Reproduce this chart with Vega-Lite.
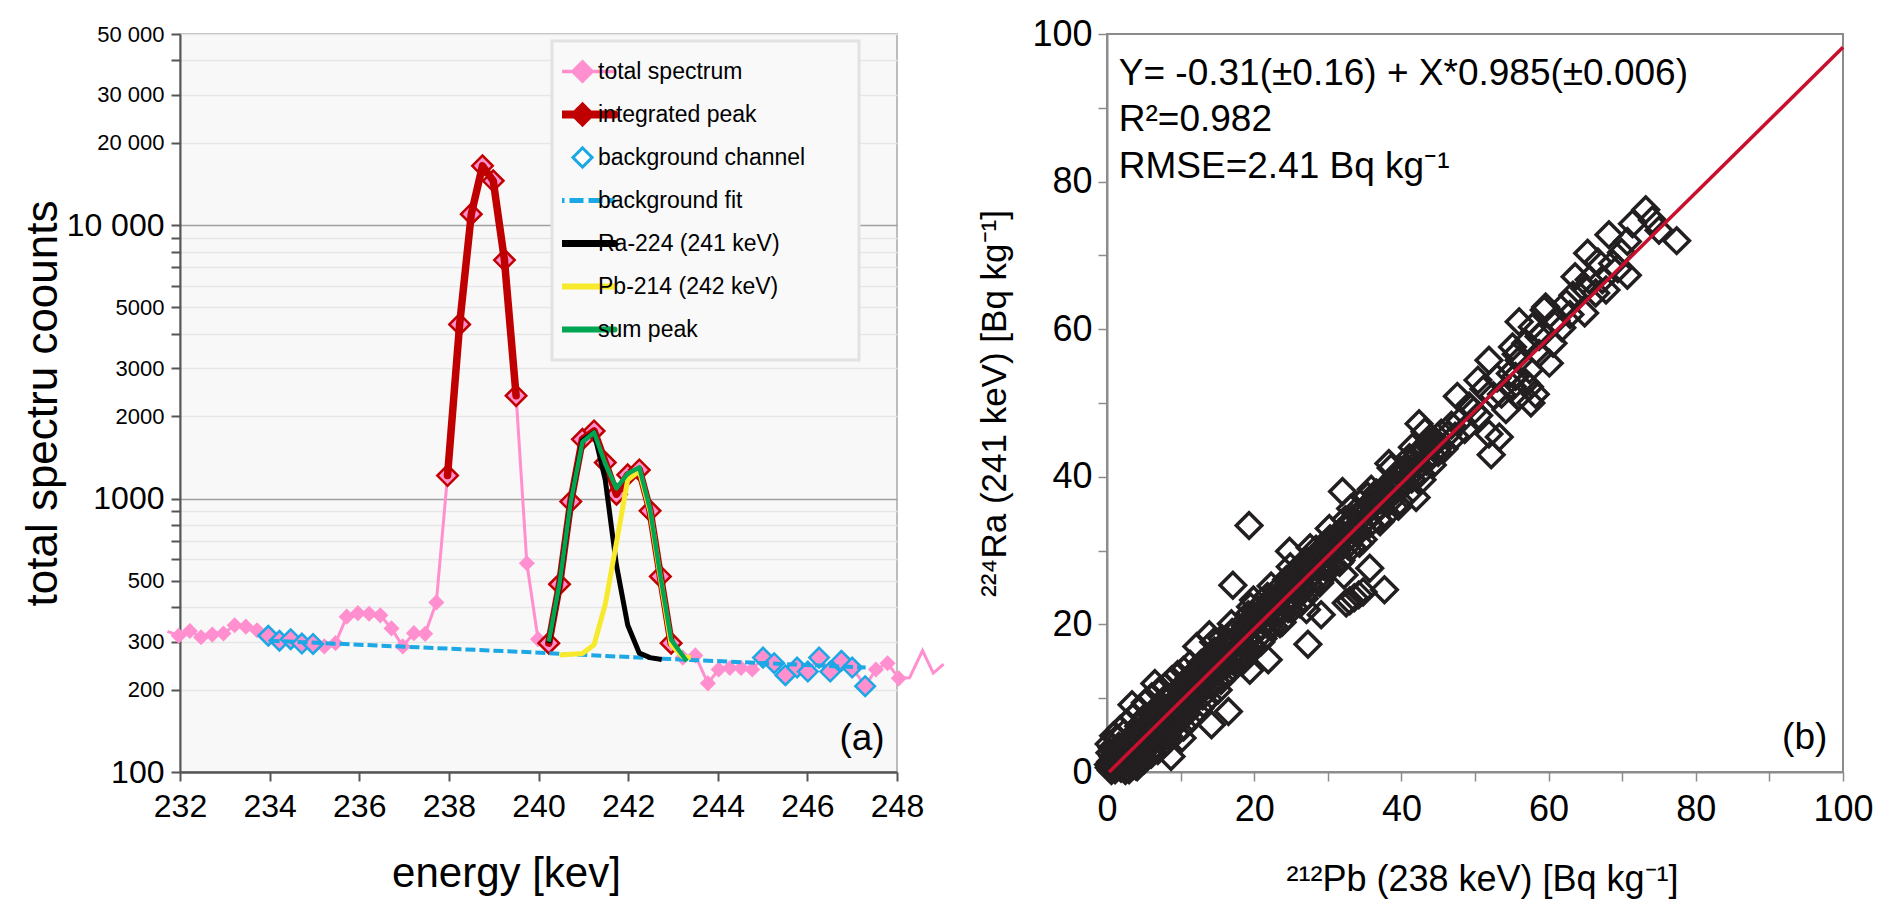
{
  "$schema": "https://vega.github.io/schema/vega-lite/v6.json",
  "background": "white",
  "padding": {"left": 20, "top": 15, "right": 5, "bottom": 5},
  "spacing": 25,
  "config": {
    "font": "Liberation Sans",
    "axis": {"labelFont": "Liberation Sans", "titleFont": "Liberation Sans", "labelColor": "#000", "titleColor": "#000", "titleFontWeight": "normal", "labelFlush": false, "labelOverlap": false}
  },
  "datasets": {
    "spectrum": [
      {"e": 231.72, "c": 327, "role": "x"},
      {"e": 231.97, "c": 315, "role": "s"},
      {"e": 232.22, "c": 328, "role": "s"},
      {"e": 232.47, "c": 311, "role": "s"},
      {"e": 232.72, "c": 318, "role": "s"},
      {"e": 232.97, "c": 321, "role": "s"},
      {"e": 233.22, "c": 344, "role": "s"},
      {"e": 233.47, "c": 340, "role": "s"},
      {"e": 233.72, "c": 330, "role": "s"},
      {"e": 233.97, "c": 315, "role": "b"},
      {"e": 234.22, "c": 302, "role": "b"},
      {"e": 234.47, "c": 306, "role": "b"},
      {"e": 234.72, "c": 295, "role": "b"},
      {"e": 234.97, "c": 294, "role": "b"},
      {"e": 235.22, "c": 288, "role": "s"},
      {"e": 235.47, "c": 296, "role": "s"},
      {"e": 235.72, "c": 370, "role": "s"},
      {"e": 235.97, "c": 381, "role": "s"},
      {"e": 236.22, "c": 379, "role": "s"},
      {"e": 236.47, "c": 374, "role": "s"},
      {"e": 236.72, "c": 335, "role": "s"},
      {"e": 236.97, "c": 288, "role": "s"},
      {"e": 237.22, "c": 322, "role": "s"},
      {"e": 237.47, "c": 320, "role": "s"},
      {"e": 237.72, "c": 417, "role": "s"},
      {"e": 237.97, "c": 1214, "role": "p1"},
      {"e": 238.24, "c": 4335, "role": "p1"},
      {"e": 238.50, "c": 10970, "role": "p1"},
      {"e": 238.75, "c": 16470, "role": "p1"},
      {"e": 238.99, "c": 14520, "role": "p1"},
      {"e": 239.24, "c": 7450, "role": "p1"},
      {"e": 239.50, "c": 2378, "role": "p1"},
      {"e": 239.74, "c": 580, "role": "s"},
      {"e": 239.99, "c": 306, "role": "s"},
      {"e": 240.23, "c": 296, "role": "p2"},
      {"e": 240.47, "c": 486, "role": "p2"},
      {"e": 240.72, "c": 975, "role": "p2"},
      {"e": 240.98, "c": 1647, "role": "p2"},
      {"e": 241.24, "c": 1767, "role": "p2"},
      {"e": 241.49, "c": 1354, "role": "p2"},
      {"e": 241.74, "c": 1037, "role": "p2"},
      {"e": 241.99, "c": 1221, "role": "p2"},
      {"e": 242.25, "c": 1273, "role": "p2"},
      {"e": 242.49, "c": 902, "role": "p2"},
      {"e": 242.72, "c": 519, "role": "p2"},
      {"e": 242.96, "c": 296, "role": "p2"},
      {"e": 243.22, "c": 262, "role": "s"},
      {"e": 243.50, "c": 267, "role": "s"},
      {"e": 243.78, "c": 211, "role": "s"},
      {"e": 244.02, "c": 237, "role": "s"},
      {"e": 244.27, "c": 240, "role": "s"},
      {"e": 244.52, "c": 240, "role": "s"},
      {"e": 244.77, "c": 237, "role": "s"},
      {"e": 245.01, "c": 262, "role": "b"},
      {"e": 245.26, "c": 250, "role": "b"},
      {"e": 245.51, "c": 226, "role": "b"},
      {"e": 245.77, "c": 241, "role": "b"},
      {"e": 246.01, "c": 233, "role": "b"},
      {"e": 246.26, "c": 262, "role": "b"},
      {"e": 246.51, "c": 233, "role": "b"},
      {"e": 246.76, "c": 255, "role": "b"},
      {"e": 247.00, "c": 241, "role": "b"},
      {"e": 247.29, "c": 206, "role": "b"},
      {"e": 247.53, "c": 237, "role": "s"},
      {"e": 247.79, "c": 250, "role": "s"},
      {"e": 248.04, "c": 220, "role": "s"},
      {"e": 248.28, "c": 221, "role": "x"},
      {"e": 248.57, "c": 278, "role": "x"},
      {"e": 248.81, "c": 230, "role": "x"},
      {"e": 249.04, "c": 248, "role": "x"}
    ],
    "fit": [
      {"e": 234.0, "c": 302},
      {"e": 239.84, "c": 274},
      {"e": 242.67, "c": 260},
      {"e": 247.3, "c": 241}
    ],
    "ra224": [
      {"e": 240.23, "c": 296}, {"e": 240.47, "c": 486}, {"e": 240.72, "c": 975},
      {"e": 240.98, "c": 1630}, {"e": 241.24, "c": 1745}, {"e": 241.49, "c": 1170},
      {"e": 241.74, "c": 570}, {"e": 241.99, "c": 345}, {"e": 242.25, "c": 272},
      {"e": 242.49, "c": 262}, {"e": 242.75, "c": 258}
    ],
    "pb214": [
      {"e": 240.47, "c": 268}, {"e": 240.98, "c": 271}, {"e": 241.24, "c": 292},
      {"e": 241.49, "c": 410}, {"e": 241.74, "c": 690}, {"e": 241.99, "c": 1170},
      {"e": 242.25, "c": 1262}, {"e": 242.49, "c": 895}, {"e": 242.72, "c": 512},
      {"e": 242.96, "c": 292}, {"e": 243.22, "c": 264}, {"e": 243.4, "c": 262}
    ],
    "sumpeak": [
      {"e": 240.23, "c": 300}, {"e": 240.47, "c": 490}, {"e": 240.72, "c": 975},
      {"e": 240.98, "c": 1610}, {"e": 241.24, "c": 1745}, {"e": 241.49, "c": 1340},
      {"e": 241.74, "c": 1090}, {"e": 241.99, "c": 1235}, {"e": 242.25, "c": 1300},
      {"e": 242.49, "c": 915}, {"e": 242.72, "c": 522}, {"e": 242.96, "c": 305},
      {"e": 243.31, "c": 254}
    ],
    "notesA": [{"note": "(a)"}],
    "notesB": [{"note": "(b)"}],
    "notesFit": [{"note": ["Y= -0.31(±0.16) + X*0.985(±0.006)", "R²=0.982", "RMSE=2.41 Bq kg⁻¹"]}],
    "fitline": [{"pb": 0.3, "ra": 0.0}, {"pb": 100, "ra": 98.2}],
    "scatter": [
      {"pb":0.3,"ra":0.6},{"pb":0.5,"ra":1.4},{"pb":0.6,"ra":0.2},{"pb":0.4,"ra":2.6},{"pb":0.7,"ra":3.3},{"pb":0.8,"ra":2.1},{"pb":0.9,"ra":0.9},{"pb":1.1,"ra":0.3},{"pb":1.2,"ra":1.8},{"pb":1.3,"ra":3.0},{"pb":1.4,"ra":4.6},{"pb":1.5,"ra":0.8},{"pb":1.6,"ra":2.4},{"pb":1.7,"ra":1.2},{"pb":1.9,"ra":0.5},{"pb":2.0,"ra":3.2},{"pb":2.1,"ra":1.9},{"pb":2.2,"ra":0.9},{"pb":2.3,"ra":5.2},{"pb":2.4,"ra":2.7},{"pb":2.5,"ra":1.5},{"pb":2.6,"ra":3.9},{"pb":2.7,"ra":0.6},{"pb":2.9,"ra":2.2},{"pb":3.0,"ra":0.3},{"pb":3.0,"ra":1.1},{"pb":3.1,"ra":4.1},{"pb":3.2,"ra":2.9},
      {"pb":0.3,"ra":3.8},{"pb":0.9,"ra":4.9},{"pb":1.8,"ra":5.8},{"pb":2.7,"ra":6.6},{"pb":3.5,"ra":7.4},{"pb":4.4,"ra":8.3},{"pb":5.2,"ra":9.4},{"pb":6.1,"ra":10.2},{"pb":7.0,"ra":10.9},{"pb":7.9,"ra":11.6},{"pb":8.8,"ra":12.5},{"pb":9.6,"ra":13.2},{"pb":10.4,"ra":13.8},{"pb":11.3,"ra":14.6},
      {"pb":2.5,"ra":0.2},{"pb":3.9,"ra":0.8},{"pb":5.0,"ra":1.6},{"pb":6.0,"ra":2.4},{"pb":7.2,"ra":3.3},{"pb":8.2,"ra":4.2},{"pb":9.3,"ra":5.2},{"pb":10.4,"ra":6.1},{"pb":11.5,"ra":7.4},{"pb":12.6,"ra":8.6},{"pb":13.8,"ra":9.9},
      {"pb":14.5,"ra":17.6},{"pb":16.9,"ra":20.1},{"pb":19.5,"ra":22.4},{"pb":22.3,"ra":25.2},{"pb":24.9,"ra":27.8},{"pb":27.6,"ra":30.4},{"pb":30.2,"ra":33.0},{"pb":33.1,"ra":35.7},{"pb":35.9,"ra":38.3},{"pb":38.6,"ra":41.2},{"pb":41.5,"ra":44.0},
      {"pb":15.5,"ra":12.4},{"pb":18.3,"ra":14.9},{"pb":20.9,"ra":17.6},{"pb":23.5,"ra":20.1},{"pb":26.2,"ra":22.8},{"pb":28.9,"ra":25.6},{"pb":31.6,"ra":28.4},{"pb":34.3,"ra":31.0},{"pb":37.1,"ra":33.9},{"pb":39.8,"ra":36.7},{"pb":42.8,"ra":39.6},
      {"pb":0.2,"ra":1.0},{"pb":0.5,"ra":0.5},{"pb":0.8,"ra":1.2},{"pb":1.0,"ra":2.7},{"pb":1.2,"ra":0.7},{"pb":1.4,"ra":1.6},{"pb":1.6,"ra":3.5},{"pb":1.8,"ra":2.0},{"pb":2.0,"ra":1.2},{"pb":2.2,"ra":2.5},{"pb":2.4,"ra":1.0},{"pb":2.6,"ra":2.3},{"pb":2.8,"ra":3.1},{"pb":3.0,"ra":2.0},{"pb":3.2,"ra":3.8},{"pb":3.4,"ra":2.4},{"pb":3.6,"ra":4.2},{"pb":3.8,"ra":3.3},{"pb":4.0,"ra":2.2},{"pb":4.2,"ra":5.3},{"pb":4.4,"ra":3.9},{"pb":4.6,"ra":4.7},{"pb":4.8,"ra":3.0},{"pb":5.0,"ra":5.9},{"pb":5.2,"ra":3.6},{"pb":5.4,"ra":5.0},{"pb":5.6,"ra":6.3},{"pb":5.8,"ra":4.2},{"pb":6.0,"ra":5.6},{"pb":6.2,"ra":6.9},{"pb":6.4,"ra":4.8},{"pb":6.6,"ra":6.1},{"pb":6.8,"ra":5.3},{"pb":7.0,"ra":7.3},{"pb":7.2,"ra":5.8},{"pb":7.4,"ra":7.9},{"pb":7.6,"ra":6.6},{"pb":7.8,"ra":5.2},{"pb":8.0,"ra":7.0},{"pb":8.2,"ra":8.6},{"pb":8.4,"ra":6.3},{"pb":8.6,"ra":8.0},{"pb":8.8,"ra":7.1},{"pb":9.0,"ra":9.4},{"pb":9.2,"ra":7.8},{"pb":9.4,"ra":8.9},{"pb":9.6,"ra":10.0},{"pb":9.8,"ra":8.1},{"pb":10.0,"ra":9.8},{"pb":10.2,"ra":9.0},{"pb":10.4,"ra":11.1},{"pb":10.6,"ra":10.4},{"pb":10.8,"ra":9.2},{"pb":11.0,"ra":11.6},{"pb":11.2,"ra":10.3},{"pb":11.4,"ra":12.0},{"pb":11.6,"ra":11.0},{"pb":11.8,"ra":10.5},{"pb":12.0,"ra":12.6},
      {"pb":3.3,"ra":1.6},{"pb":3.4,"ra":9.1},{"pb":3.5,"ra":3.4},{"pb":3.6,"ra":0.9},{"pb":3.7,"ra":4.6},{"pb":3.8,"ra":2.3},{"pb":3.9,"ra":5.4},{"pb":4.0,"ra":3.1},{"pb":4.1,"ra":0.7},{"pb":4.1,"ra":1.7},{"pb":4.2,"ra":4.0},{"pb":4.3,"ra":6.2},{"pb":4.4,"ra":2.6},{"pb":4.5,"ra":5.1},{"pb":4.6,"ra":3.6},{"pb":4.7,"ra":1.9},{"pb":4.8,"ra":4.4},{"pb":4.9,"ra":6.8},{"pb":5.0,"ra":2.8},{"pb":5.1,"ra":5.6},{"pb":5.2,"ra":4.1},{"pb":5.3,"ra":7.4},{"pb":5.4,"ra":3.2},{"pb":5.5,"ra":6.0},{"pb":5.6,"ra":4.8},{"pb":5.7,"ra":2.5},{"pb":5.8,"ra":5.3},{"pb":5.9,"ra":7.1},{"pb":6.0,"ra":3.9},{"pb":6.1,"ra":6.4},{"pb":6.2,"ra":5.0},{"pb":6.3,"ra":8.2},{"pb":6.4,"ra":3.4},{"pb":6.5,"ra":12.0},{"pb":6.5,"ra":5.7},{"pb":6.6,"ra":7.6},{"pb":6.7,"ra":4.6},{"pb":6.8,"ra":6.9},{"pb":6.9,"ra":2.9},{"pb":7.0,"ra":5.9},{"pb":7.1,"ra":8.4},{"pb":7.2,"ra":4.4},{"pb":7.3,"ra":7.1},{"pb":7.4,"ra":6.0},{"pb":7.5,"ra":9.0},{"pb":7.6,"ra":5.1},{"pb":7.7,"ra":3.8},{"pb":7.8,"ra":7.8},{"pb":7.9,"ra":6.6},{"pb":8.0,"ra":9.6},{"pb":8.1,"ra":5.4},{"pb":8.2,"ra":7.2},{"pb":8.3,"ra":4.9},{"pb":8.4,"ra":8.8},{"pb":8.5,"ra":6.8},{"pb":8.6,"ra":10.1},{"pb":8.7,"ra":2.1},{"pb":8.7,"ra":7.4},{"pb":8.8,"ra":5.9},{"pb":8.9,"ra":9.2},{"pb":9.0,"ra":8.0},{"pb":9.1,"ra":6.3},{"pb":9.2,"ra":10.6},{"pb":9.3,"ra":7.5},{"pb":9.5,"ra":9.9},{"pb":9.6,"ra":8.4},{"pb":9.7,"ra":6.9},{"pb":9.8,"ra":11.2},{"pb":9.9,"ra":9.0},{"pb":10.0,"ra":7.6},{"pb":10.2,"ra":4.6},{"pb":10.2,"ra":10.4},{"pb":10.3,"ra":8.6},{"pb":10.5,"ra":12.0},{"pb":10.6,"ra":9.3},{"pb":10.8,"ra":7.9},{"pb":10.9,"ra":11.4},{"pb":11.1,"ra":10.0},{"pb":11.2,"ra":12.8},{"pb":11.4,"ra":9.1},{"pb":11.5,"ra":11.7},{"pb":11.7,"ra":10.3},{"pb":11.8,"ra":13.4},{"pb":12.0,"ra":11.0},
      {"pb":12.3,"ra":12.0},{"pb":12.7,"ra":13.4},{"pb":13.0,"ra":12.1},{"pb":13.4,"ra":14.2},{"pb":13.8,"ra":13.0},{"pb":14.1,"ra":14.4},{"pb":14.5,"ra":13.2},{"pb":14.9,"ra":15.6},{"pb":15.3,"ra":14.6},{"pb":15.7,"ra":16.3},{"pb":16.1,"ra":15.0},{"pb":16.5,"ra":17.3},{"pb":16.9,"ra":15.9},{"pb":17.3,"ra":17.8},{"pb":17.7,"ra":16.5},{"pb":18.1,"ra":18.5},{"pb":18.5,"ra":17.1},{"pb":18.9,"ra":19.3},{"pb":19.3,"ra":18.0},{"pb":19.7,"ra":20.2},{"pb":20.1,"ra":18.9},{"pb":20.5,"ra":21.0},{"pb":20.9,"ra":19.6},{"pb":21.3,"ra":21.9},{"pb":21.7,"ra":20.6},{"pb":22.1,"ra":22.5},{"pb":22.5,"ra":21.3},{"pb":22.9,"ra":23.4},{"pb":23.3,"ra":22.0},{"pb":23.7,"ra":24.1},{"pb":24.1,"ra":22.9},{"pb":24.5,"ra":25.0},{"pb":24.9,"ra":23.6},{"pb":25.3,"ra":25.9},{"pb":25.7,"ra":24.5},{"pb":26.1,"ra":26.6},{"pb":26.5,"ra":25.3},{"pb":26.9,"ra":27.5},{"pb":27.3,"ra":26.1},{"pb":27.7,"ra":28.3},{"pb":28.1,"ra":26.9},{"pb":28.5,"ra":29.1},{"pb":28.9,"ra":27.8},{"pb":29.3,"ra":29.9},{"pb":29.7,"ra":28.6},{"pb":30.1,"ra":30.8},{"pb":30.5,"ra":29.3},{"pb":30.9,"ra":31.6},{"pb":31.3,"ra":30.2},{"pb":31.7,"ra":32.3},{"pb":32.1,"ra":30.9},{"pb":32.5,"ra":33.2},{"pb":32.9,"ra":31.8},{"pb":33.3,"ra":34.0},{"pb":33.7,"ra":32.6},{"pb":34.1,"ra":34.8},{"pb":34.5,"ra":33.4},{"pb":34.9,"ra":35.6},{"pb":35.3,"ra":34.3},{"pb":35.7,"ra":36.3},{"pb":36.1,"ra":35.0},{"pb":36.5,"ra":37.2},{"pb":36.9,"ra":35.9},{"pb":37.3,"ra":37.9},{"pb":37.7,"ra":36.7},{"pb":38.1,"ra":38.8},{"pb":38.5,"ra":37.5},{"pb":38.9,"ra":39.5},{"pb":39.3,"ra":38.2},{"pb":39.7,"ra":40.4},{"pb":40.1,"ra":39.0},{"pb":40.5,"ra":41.2},{"pb":40.9,"ra":39.9},{"pb":41.3,"ra":41.9},{"pb":41.7,"ra":40.8},{"pb":42.1,"ra":42.7},{"pb":42.5,"ra":41.5},{"pb":42.9,"ra":43.5},{"pb":43.3,"ra":42.3},{"pb":43.7,"ra":44.2},{"pb":44.1,"ra":43.1},{"pb":44.5,"ra":45.0},
      {"pb":12.2,"ra":13.3},{"pb":12.2,"ra":17.0},{"pb":12.4,"ra":10.5},{"pb":12.6,"ra":12.6},{"pb":12.8,"ra":14.7},{"pb":13.0,"ra":10.3},{"pb":13.1,"ra":9.3},{"pb":13.3,"ra":13.7},{"pb":13.5,"ra":12.2},{"pb":13.7,"ra":15.2},{"pb":13.9,"ra":18.6},{"pb":14.0,"ra":12.0},{"pb":14.2,"ra":6.4},{"pb":14.2,"ra":14.9},{"pb":14.4,"ra":13.5},{"pb":14.6,"ra":16.4},{"pb":14.8,"ra":12.3},{"pb":15.0,"ra":15.1},{"pb":15.1,"ra":11.1},{"pb":15.2,"ra":16.4},{"pb":15.4,"ra":13.9},{"pb":15.6,"ra":18.1},{"pb":15.8,"ra":12.9},{"pb":16.0,"ra":15.8},{"pb":16.2,"ra":17.6},{"pb":16.4,"ra":14.7},{"pb":16.5,"ra":8.2},{"pb":16.6,"ra":16.9},{"pb":16.8,"ra":13.7},{"pb":17.0,"ra":18.9},{"pb":17.1,"ra":25.3},{"pb":17.2,"ra":16.0},{"pb":17.4,"ra":18.1},{"pb":17.6,"ra":15.1},{"pb":17.8,"ra":17.6},{"pb":18.0,"ra":19.6},{"pb":18.2,"ra":16.6},{"pb":18.4,"ra":18.7},{"pb":18.6,"ra":15.7},{"pb":18.8,"ra":19.8},{"pb":19.0,"ra":18.2},{"pb":19.2,"ra":21.3},{"pb":19.3,"ra":33.4},{"pb":19.4,"ra":17.3},{"pb":19.4,"ra":13.8},{"pb":19.6,"ra":19.7},{"pb":19.8,"ra":17.1},{"pb":19.9,"ra":23.3},{"pb":20.0,"ra":21.2},{"pb":20.2,"ra":19.1},{"pb":20.4,"ra":22.1},{"pb":20.6,"ra":18.3},{"pb":20.8,"ra":20.7},{"pb":21.0,"ra":21.8},{"pb":21.2,"ra":18.1},{"pb":21.4,"ra":21.7},{"pb":21.6,"ra":20.1},{"pb":21.8,"ra":23.8},{"pb":21.9,"ra":15.2},{"pb":22.0,"ra":19.8},{"pb":22.2,"ra":21.8},{"pb":22.4,"ra":23.5},{"pb":22.6,"ra":19.8},{"pb":22.8,"ra":23.2},{"pb":23.0,"ra":21.7},{"pb":23.2,"ra":24.7},{"pb":23.4,"ra":21.4},{"pb":23.6,"ra":23.5},{"pb":23.8,"ra":20.3},{"pb":24.0,"ra":24.8},{"pb":24.2,"ra":23.2},{"pb":24.4,"ra":26.1},{"pb":24.6,"ra":22.1},{"pb":24.8,"ra":29.9},{"pb":24.8,"ra":24.9},{"pb":25.0,"ra":23.2},{"pb":25.2,"ra":26.4},{"pb":25.4,"ra":22.3},{"pb":25.6,"ra":25.2},{"pb":25.8,"ra":27.3},{"pb":26.0,"ra":23.9},{"pb":26.2,"ra":26.4},{"pb":26.4,"ra":25.2},{"pb":26.6,"ra":27.5},{"pb":26.8,"ra":23.5},{"pb":27.0,"ra":26.7},{"pb":27.1,"ra":22.0},{"pb":27.3,"ra":17.3},{"pb":27.2,"ra":28.5},{"pb":27.4,"ra":25.5},{"pb":27.6,"ra":27.6},{"pb":27.8,"ra":25.0},{"pb":28.0,"ra":28.6},{"pb":28.2,"ra":27.1},{"pb":28.4,"ra":30.2},{"pb":28.6,"ra":26.2},{"pb":28.8,"ra":28.7},{"pb":29.0,"ra":26.0},{"pb":29.1,"ra":21.3},{"pb":29.2,"ra":30.3},{"pb":29.4,"ra":27.9},{"pb":29.6,"ra":30.0},{"pb":29.8,"ra":27.6},{"pb":30.0,"ra":29.5},
      {"pb":30.3,"ra":31.6},{"pb":30.6,"ra":27.9},{"pb":30.9,"ra":30.9},{"pb":31.2,"ra":29.8},{"pb":31.5,"ra":32.4},{"pb":31.8,"ra":28.7},{"pb":32.0,"ra":38.0},{"pb":32.1,"ra":31.8},{"pb":32.2,"ra":26.7},{"pb":32.4,"ra":34.2},{"pb":32.5,"ra":22.9},{"pb":32.7,"ra":30.7},{"pb":33.0,"ra":33.4},{"pb":33.0,"ra":23.2},{"pb":33.3,"ra":30.5},{"pb":33.4,"ra":34.3},{"pb":33.6,"ra":33.1},{"pb":33.6,"ra":23.6},{"pb":33.9,"ra":35.4},{"pb":34.2,"ra":32.5},{"pb":34.2,"ra":24.0},{"pb":34.5,"ra":35.1},{"pb":34.8,"ra":31.5},{"pb":34.8,"ra":24.4},{"pb":35.1,"ra":35.0},{"pb":35.4,"ra":37.4},{"pb":35.7,"ra":33.6},{"pb":35.7,"ra":27.6},{"pb":36.0,"ra":36.2},{"pb":36.3,"ra":35.1},{"pb":36.6,"ra":37.8},{"pb":36.9,"ra":34.2},{"pb":37.2,"ra":36.9},{"pb":37.5,"ra":38.3},{"pb":37.7,"ra":24.7},{"pb":37.8,"ra":34.7},{"pb":38.1,"ra":37.4},{"pb":38.3,"ra":41.8},{"pb":38.4,"ra":36.6},{"pb":38.7,"ra":39.3},{"pb":39.2,"ra":40.0},{"pb":39.3,"ra":38.9},{"pb":39.6,"ra":36.0},{"pb":39.9,"ra":40.9},{"pb":40.2,"ra":38.8},{"pb":40.5,"ra":40.7},{"pb":40.8,"ra":37.6},{"pb":41.1,"ra":42.6},{"pb":41.4,"ra":39.7},{"pb":41.8,"ra":41.6},{"pb":42.0,"ra":37.2},{"pb":42.2,"ra":43.2},{"pb":42.4,"ra":47.2},{"pb":42.6,"ra":40.5},{"pb":43.0,"ra":43.4},{"pb":43.2,"ra":46.1},{"pb":43.4,"ra":42.1},{"pb":43.8,"ra":44.8},{"pb":44.2,"ra":41.6},{"pb":44.6,"ra":44.5},{"pb":44.9,"ra":43.8},{"pb":45.0,"ra":43.3},{"pb":45.4,"ra":45.9},{"pb":45.8,"ra":43.8},
      {"pb":46.3,"ra":45.7},{"pb":46.8,"ra":47.0},{"pb":47.3,"ra":45.5},{"pb":47.6,"ra":50.9},{"pb":48.0,"ra":47.6},{"pb":48.6,"ra":46.4},{"pb":49.2,"ra":49.6},{"pb":49.8,"ra":48.9},{"pb":50.4,"ra":53.1},{"pb":50.5,"ra":48.3},{"pb":51.2,"ra":51.9},{"pb":51.9,"ra":55.8},{"pb":51.9,"ra":45.8},{"pb":52.2,"ra":43.0},{"pb":52.5,"ra":51.0},{"pb":53.0,"ra":53.4},{"pb":53.3,"ra":45.4},{"pb":53.6,"ra":51.2},{"pb":54.2,"ra":49.1},{"pb":54.8,"ra":54.0},{"pb":55.1,"ra":52.2},{"pb":55.1,"ra":57.6},{"pb":55.5,"ra":53.6},{"pb":55.6,"ra":56.6},{"pb":56.0,"ra":50.9},{"pb":56.0,"ra":55.8},{"pb":56.0,"ra":61.0},{"pb":56.9,"ra":58.1},{"pb":56.9,"ra":52.7},{"pb":57.4,"ra":52.2},{"pb":57.4,"ra":54.5},{"pb":57.6,"ra":50.0},{"pb":57.8,"ra":60.3},{"pb":58.2,"ra":51.2},{"pb":58.7,"ra":56.7},{"pb":58.7,"ra":59.0},{"pb":59.2,"ra":59.4},{"pb":59.4,"ra":62.6},{"pb":59.6,"ra":63.0},{"pb":60.1,"ra":55.4},{"pb":60.6,"ra":58.1},{"pb":61.0,"ra":61.2},{"pb":61.8,"ra":60.2},{"pb":62.4,"ra":63.5},{"pb":62.9,"ra":62.0},{"pb":63.3,"ra":64.6},{"pb":63.6,"ra":67.1},{"pb":64.9,"ra":62.2},{"pb":64.9,"ra":65.5},{"pb":65.3,"ra":70.3},{"pb":65.5,"ra":66.7},{"pb":66.4,"ra":64.9},{"pb":66.7,"ra":69.1},{"pb":67.3,"ra":66.7},{"pb":67.8,"ra":65.3},{"pb":68.2,"ra":72.8},{"pb":68.7,"ra":68.9},{"pb":69.4,"ra":68.2},{"pb":69.9,"ra":70.4},{"pb":70.7,"ra":71.9},{"pb":70.7,"ra":67.3},{"pb":71.4,"ra":74.3},{"pb":73.2,"ra":76.2},{"pb":74.1,"ra":74.8},{"pb":75.0,"ra":73.4},{"pb":77.4,"ra":72.0}
    ]
  },
  "hconcat": [
    {
      "width": 717,
      "height": 738,
      "view": {"fill": "#F8F8F8", "stroke": "#A8A8A8", "strokeWidth": 1.5},
      "layer": [
        {
          "data": {"name": "spectrum"},
          "mark": {"type": "line", "strokeWidth": 3, "clip": false},
          "encoding": {
            "x": {
              "field": "e", "type": "quantitative",
              "scale": {"domain": [232, 248], "nice": false, "zero": false},
              "axis": {
                "values": [232, 234, 236, 238, 240, 242, 244, 246, 248],
                "grid": false, "labelFontSize": 32, "labelPadding": 10,
                "tickSize": 9, "tickWidth": 2, "tickColor": "#555", "domainColor": "#555", "domainWidth": 2.5,
                "title": "energy [kev]", "titleFontSize": 42, "titleX": 326, "titleY": 114, "titleBaseline": "alphabetic"
              }
            },
            "y": {
              "field": "c", "type": "quantitative",
              "scale": {"type": "log", "domain": [100, 50000], "nice": false},
              "axis": {
                "values": [100, 200, 300, 400, 500, 600, 700, 800, 900, 1000, 2000, 3000, 4000, 5000, 6000, 7000, 8000, 9000, 10000, 20000, 30000, 40000, 50000],
                "labelExpr": "indexof([100,200,300,500,1000,2000,3000,5000,10000,20000,30000,50000], datum.value) >= 0 ? (datum.value >= 10000 ? replace(format(datum.value, ','), ',', ' ') : format(datum.value, 'd')) : ''",
                "labelFontSize": {"condition": {"test": "datum.value === 100 || datum.value === 1000 || datum.value === 10000", "value": 32}, "value": 22},
                "gridColor": {"condition": {"test": "datum.value === 1000 || datum.value === 10000", "value": "#A0A0A0"}, "value": "#E6E6E6"},
                "gridWidth": 1.5, "grid": true, "labelPadding": 7,
                "tickSize": 9, "tickWidth": 2, "tickColor": "#555", "domainColor": "#555", "domainWidth": 2,
                "title": "total spectru coounts", "titleFontSize": 44, "titleAngle": 270,
                "titleX": -137, "titleY": 369, "titleBaseline": "middle", "titleAlign": "center"
              }
            },
            "color": {
              "datum": "total spectrum", "type": "nominal",
              "scale": {
                "domain": ["total spectrum", "integrated peak", "background channel", "background fit", "Ra-224 (241 keV)", "Pb-214 (242 keV)", "sum peak"],
                "range": ["#FF8FCF", "#C00000", "#1BA8E4", "#1BA8E4", "#000000", "#F7E92C", "#00A651"]
              },
              "legend": {
                "title": " ", "titleOrient": "right", "titlePadding": 44,
                "orient": "none", "legendX": 372, "legendY": 7,
                "symbolSize": 4096, "clipHeight": 41, "rowPadding": 2, "padding": 10,
                "symbolOffset": 9, "labelOffset": 4, "labelFont": "Liberation Sans", "labelFontSize": 23, "labelColor": "#000", "labelLimit": 400,
                "fillColor": "#F9F9F9", "strokeColor": "#E2E2E2",
                "encode": {
                  "legend": {"update": {"strokeWidth": {"value": 3}}},
                  "symbols": {"update": {
                    "shape": {"signal": "datum.value === 'total spectrum' ? 'M-1,0L1,0M0,-0.3L0.3,0L0,0.3L-0.3,0Z' : datum.value === 'integrated peak' ? 'M-1,0L1,0M0,-0.22L0.22,0L0,0.22L-0.22,0Z' : datum.value === 'background channel' ? 'M0,-0.3L0.3,0L0,0.3L-0.3,0Z' : 'M-1,0L1,0'"},
                    "fill": {"signal": "datum.value === 'total spectrum' ? '#FF8FCF' : datum.value === 'integrated peak' ? '#C00000' : datum.value === 'background channel' ? '#FFFFFF' : 'transparent'"},
                    "strokeWidth": {"signal": "datum.value === 'integrated peak' ? 8 : datum.value === 'Ra-224 (241 keV)' ? 7 : datum.value === 'total spectrum' ? 3.5 : datum.value === 'background channel' ? 3 : datum.value === 'background fit' ? 5 : 6"},
                    "strokeDash": {"signal": "datum.value === 'background fit' ? [14, 5] : [1, 0]"},
                    "strokeCap": {"signal": "datum.value === 'background fit' ? 'butt' : 'round'"},
                    "size": {"value": 4096},
                    "opacity": {"value": 1}
                  }}
                }
              }
            }
          }
        },
        {
          "data": {"name": "spectrum"},
          "transform": [{"filter": "datum.role !== 'x'"}],
          "mark": {"type": "point", "shape": "diamond", "filled": true, "color": "#FF8FCF", "size": 260, "opacity": 1},
          "encoding": {"x": {"field": "e", "type": "quantitative"}, "y": {"field": "c", "type": "quantitative"}}
        },
        {
          "data": {"name": "spectrum"},
          "transform": [{"filter": "datum.role === 'b'"}],
          "mark": {"type": "point", "shape": "diamond", "filled": true, "fill": "#FF8FCF", "stroke": "#1BA8E4", "strokeWidth": 2.5, "size": 380, "opacity": 1},
          "encoding": {"x": {"field": "e", "type": "quantitative"}, "y": {"field": "c", "type": "quantitative"}}
        },
        {
          "data": {"name": "spectrum"},
          "transform": [{"filter": "datum.role === 'p1' || datum.role === 'p2'"}],
          "mark": {"type": "point", "shape": "diamond", "filled": true, "fill": "#FF8FCF", "stroke": "#C00000", "strokeWidth": 2.5, "size": 420, "opacity": 1},
          "encoding": {"x": {"field": "e", "type": "quantitative"}, "y": {"field": "c", "type": "quantitative"}}
        },
        {
          "data": {"name": "fit"},
          "mark": {"type": "line", "color": "#1BA8E4", "strokeWidth": 4, "strokeDash": [10, 4]},
          "encoding": {"x": {"field": "e", "type": "quantitative"}, "y": {"field": "c", "type": "quantitative"}}
        },
        {
          "data": {"name": "spectrum"},
          "transform": [{"filter": "datum.role === 'p1' || datum.role === 'p2'"}],
          "mark": {"type": "line", "color": "#C00000", "strokeWidth": 7.5, "strokeJoin": "round", "strokeCap": "round"},
          "encoding": {"x": {"field": "e", "type": "quantitative"}, "y": {"field": "c", "type": "quantitative"}, "detail": {"field": "role", "type": "nominal"}}
        },
        {
          "data": {"name": "ra224"},
          "mark": {"type": "line", "color": "#000000", "strokeWidth": 5, "strokeJoin": "round"},
          "encoding": {"x": {"field": "e", "type": "quantitative"}, "y": {"field": "c", "type": "quantitative"}}
        },
        {
          "data": {"name": "pb214"},
          "mark": {"type": "line", "color": "#F7E92C", "strokeWidth": 5, "strokeJoin": "round"},
          "encoding": {"x": {"field": "e", "type": "quantitative"}, "y": {"field": "c", "type": "quantitative"}}
        },
        {
          "data": {"name": "sumpeak"},
          "mark": {"type": "line", "color": "#00A651", "strokeWidth": 4.5, "strokeJoin": "round"},
          "encoding": {"x": {"field": "e", "type": "quantitative"}, "y": {"field": "c", "type": "quantitative"}}
        },
        {
          "data": {"name": "notesA"},
          "mark": {"type": "text", "fontSize": 37, "align": "center", "baseline": "middle", "color": "#000"},
          "encoding": {
            "x": {"datum": 247.22, "type": "quantitative"},
            "y": {"datum": 131.6, "type": "quantitative"},
            "text": {"field": "note", "type": "nominal"}
          }
        }
      ]
    },
    {
      "width": 736,
      "height": 738,
      "view": {"fill": "white", "stroke": "#8C8C8C", "strokeWidth": 2},
      "layer": [
        {
          "data": {"name": "scatter"},
          "mark": {"type": "point", "shape": "diamond", "filled": false, "color": "#231F20", "strokeWidth": 3.5, "size": 650, "opacity": 1},
          "encoding": {
            "x": {
              "field": "pb", "type": "quantitative",
              "scale": {"domain": [0, 100], "nice": false},
              "axis": {
                "values": [0, 10, 20, 30, 40, 50, 60, 70, 80, 90, 100],
                "labelExpr": "datum.value % 20 === 0 ? datum.label : ''",
                "grid": false, "labelFontSize": 36, "labelPadding": 11,
                "tickSize": 9, "tickWidth": 1.5, "tickColor": "#8C8C8C", "domainColor": "#8C8C8C", "domainWidth": 2,
                "title": "²¹²Pb (238 keV) [Bq kg⁻¹]", "titleFontSize": 36, "titleX": 375, "titleY": 118, "titleBaseline": "alphabetic"
              }
            },
            "y": {
              "field": "ra", "type": "quantitative",
              "scale": {"domain": [0, 100], "nice": false},
              "axis": {
                "values": [0, 5, 10, 15, 20, 25, 30, 35, 40, 45, 50, 55, 60, 65, 70, 75, 80, 85, 90, 95, 100],
                "labelExpr": "datum.value % 20 === 0 ? datum.label : ''",
                "grid": false, "labelFontSize": 36, "labelPadding": 6,
                "tickSize": 9, "tickWidth": 1.5, "tickColor": "#8C8C8C", "domainColor": "#8C8C8C", "domainWidth": 2,
                "title": "²²⁴Ra (241 keV) [Bq kg⁻¹]", "titleFontSize": 35, "titleAngle": 270,
                "titleX": -113, "titleY": 369, "titleBaseline": "middle", "titleAlign": "center"
              }
            }
          }
        },
        {
          "data": {"name": "fitline"},
          "mark": {"type": "line", "color": "#C8102E", "strokeWidth": 3.5},
          "encoding": {"x": {"field": "pb", "type": "quantitative"}, "y": {"field": "ra", "type": "quantitative"}}
        },
        {
          "data": {"name": "notesFit"},
          "mark": {"type": "text", "fontSize": 37, "lineHeight": 46.5, "align": "left", "baseline": "alphabetic", "color": "#000"},
          "encoding": {
            "x": {"datum": 1.6, "type": "quantitative"},
            "y": {"datum": 93.1, "type": "quantitative"},
            "text": {"field": "note", "type": "nominal"}
          }
        },
        {
          "data": {"name": "notesB"},
          "mark": {"type": "text", "fontSize": 37, "align": "center", "baseline": "middle", "color": "#000"},
          "encoding": {
            "x": {"datum": 94.8, "type": "quantitative"},
            "y": {"datum": 4.6, "type": "quantitative"},
            "text": {"field": "note", "type": "nominal"}
          }
        }
      ]
    }
  ]
}
